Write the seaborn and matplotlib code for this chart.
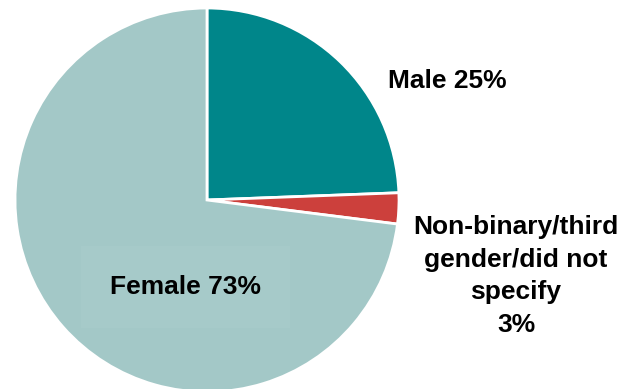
import seaborn as sns
import matplotlib.pyplot as plt

# gender split of respondents
labels = ["Male 25%", "Non-binary/third\ngender/did not\nspecify\n3%", "Female 73%"]
shares = [24.4, 2.6, 73.0]
colors = ["#00868a", "#cc403c", "#a3c8c7"]

sns.set_style("white")
plt.rcParams['font.family'] = ['Liberation Sans', 'DejaVu Sans']

fig = plt.figure(figsize=(6.44, 3.89), dpi=100)
ax = fig.add_axes([15/644, -3/389, 384/644, 384/389])
wedges, _ = ax.pie(shares, colors=colors, startangle=90, counterclock=False,
                   radius=1, wedgeprops=dict(edgecolor="white", linewidth=2))
ax.set_xlim(-1, 1)
ax.set_ylim(-1, 1)
ax.set_aspect("equal")
ax.axis("off")

fs = 19
fig.text(447/644, 1 - 81/389, labels[0], fontsize=fs, fontweight="bold",
         color="black", ha="center", va="center")
fig.text(516/644, 1 - 276/389, labels[1], fontsize=fs, fontweight="bold",
         color="black", ha="center", va="center", linespacing=1.47)
fig.text(185.5/644, 1 - 287/389, labels[2], fontsize=fs, fontweight="bold",
         color="black", ha="center", va="center",
         bbox=dict(boxstyle="square,pad=1.1", fc="#a6cac9", ec="none"))

plt.savefig("out.png", dpi=100)
